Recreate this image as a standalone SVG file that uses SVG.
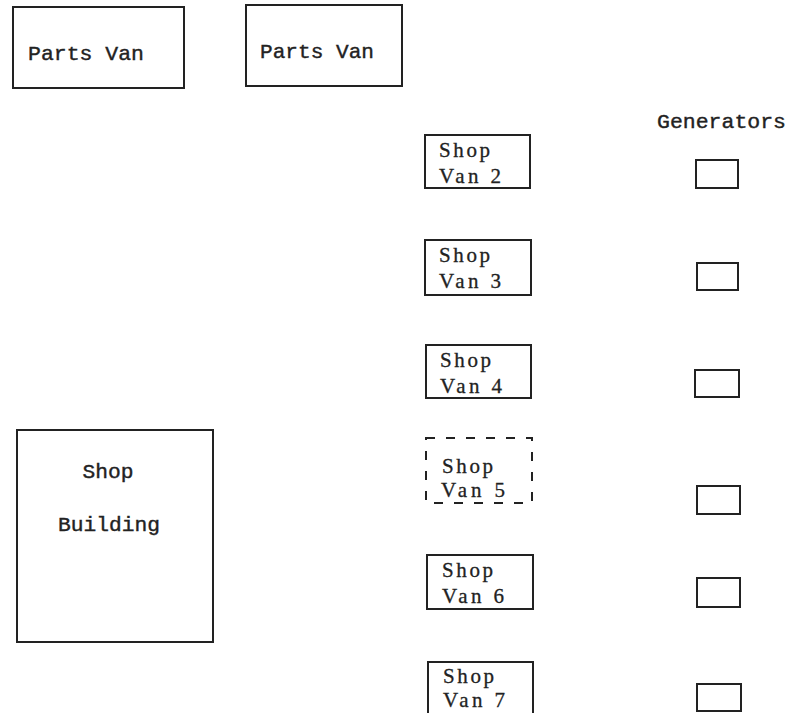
<svg xmlns="http://www.w3.org/2000/svg" width="788" height="713" viewBox="0 0 788 713">
<style>
.box{fill:none;stroke:#222;stroke-width:2}
.dash{fill:none;stroke:#222;stroke-width:2;stroke-dasharray:9 11}
.mono{font-family:"Liberation Mono","DejaVu Sans Mono",monospace;font-size:21px;fill:#222;stroke:#222;stroke-width:0.4}
.serif{font-family:"Liberation Serif","DejaVu Serif",serif;font-size:21px;fill:#222;stroke:#222;stroke-width:0.3}
</style>
<rect width="788" height="713" fill="#fff"/>
<g id="parts-van-1">
<rect class="box" x="13" y="7" width="171" height="81"/>
<text class="mono" x="28" y="60" textLength="116" lengthAdjust="spacingAndGlyphs">Parts Van</text>
</g>
<g id="parts-van-2">
<rect class="box" x="246" y="5" width="156" height="81"/>
<text class="mono" x="260" y="58" textLength="114" lengthAdjust="spacingAndGlyphs">Parts Van</text>
</g>
<g id="generators-label">
<text class="mono" x="657" y="128" textLength="129" lengthAdjust="spacingAndGlyphs">Generators</text>
</g>
<g id="shop-van-2">
<rect class="box" x="425" y="135" width="105" height="53"/>
<text class="serif" x="439" y="157" textLength="51" lengthAdjust="spacing">Shop</text>
<text class="serif" x="439" y="183" textLength="62" lengthAdjust="spacing">Van 2</text>
</g>
<g id="shop-van-3">
<rect class="box" x="425" y="240" width="106" height="55"/>
<text class="serif" x="439" y="262" textLength="51" lengthAdjust="spacing">Shop</text>
<text class="serif" x="439" y="288" textLength="62" lengthAdjust="spacing">Van 3</text>
</g>
<g id="shop-van-4">
<rect class="box" x="426" y="345" width="105" height="53"/>
<text class="serif" x="440" y="367" textLength="51" lengthAdjust="spacing">Shop</text>
<text class="serif" x="440" y="393" textLength="62" lengthAdjust="spacing">Van 4</text>
</g>
<g id="shop-van-5">
<rect class="dash" x="426" y="438" width="106" height="65"/>
<text class="serif" x="442" y="473" textLength="51" lengthAdjust="spacing">Shop</text>
<text class="serif" x="441" y="497" textLength="64" lengthAdjust="spacing">Van 5</text>
</g>
<g id="shop-van-6">
<rect class="box" x="427" y="555" width="106" height="54"/>
<text class="serif" x="442" y="577" textLength="51" lengthAdjust="spacing">Shop</text>
<text class="serif" x="442" y="603" textLength="62" lengthAdjust="spacing">Van 6</text>
</g>
<g id="shop-van-7">
<rect class="box" x="428" y="662" width="105" height="60"/>
<text class="serif" x="443" y="683" textLength="51" lengthAdjust="spacing">Shop</text>
<text class="serif" x="443" y="707" textLength="62" lengthAdjust="spacing">Van 7</text>
</g>
<g id="shop-building">
<rect class="box" x="17" y="430" width="196" height="212"/>
<text class="mono" x="108" y="478" text-anchor="middle" textLength="51" lengthAdjust="spacingAndGlyphs">Shop</text>
<text class="mono" x="58" y="531" textLength="102" lengthAdjust="spacingAndGlyphs">Building</text>
</g>
<g id="generator-1"><rect class="box" x="696" y="160" width="42" height="28"/></g>
<g id="generator-2"><rect class="box" x="697" y="263" width="41" height="27"/></g>
<g id="generator-3"><rect class="box" x="695" y="370" width="44" height="27"/></g>
<g id="generator-4"><rect class="box" x="697" y="486" width="43" height="28"/></g>
<g id="generator-5"><rect class="box" x="697" y="578" width="43" height="29"/></g>
<g id="generator-6"><rect class="box" x="697" y="684" width="44" height="27"/></g>
<g id="connectors"></g>
</svg>
